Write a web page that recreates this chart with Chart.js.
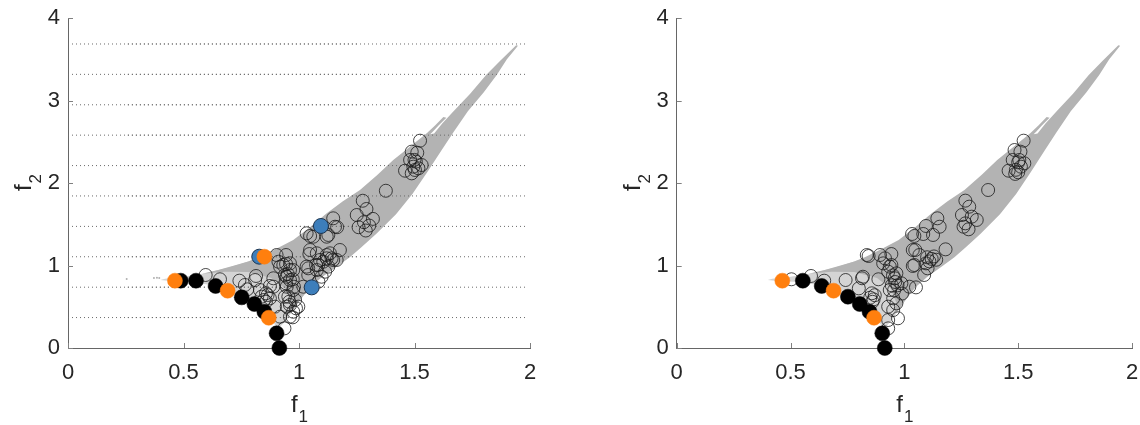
<!DOCTYPE html>
<html>
<head>
<meta charset="utf-8">
<script src="https://cdn.jsdelivr.net/npm/chart.js@4.4.1/dist/chart.umd.min.js"></script>
<style>
  body { margin: 0; background: #fff; width: 1140px; height: 425px; overflow: hidden; position: relative; }
  .panel { position: absolute; top: 0; width: 570px; height: 425px; }
</style>
</head>
<body>
<div class="panel" style="left:0"><canvas id="leftChart" width="570" height="425"></canvas></div>
<div class="panel" style="left:570px"><canvas id="rightChart" width="570" height="425"></canvas></div>
<script>
// tick labels
const f1Ticks = [0, 0.5, 1, 1.5, 2];
const f2Ticks = [0, 1, 2, 3, 4];

// dotted guide levels (left panel only)
const guideLevels = [0.369, 0.737, 1.106, 1.474, 1.843, 2.211, 2.58, 2.948, 3.317, 3.685];
const guideSpan = [0, 1.99];
const guideDense = [0.25, 1.25];

// feasible region, dense band outline [f1, f2]
const bandOutline = [
  [0.58, 0.90], [0.65, 0.945], [0.72, 1.0], [0.78, 1.05], [0.831, 1.107], [0.90, 1.20],
  [0.975, 1.309], [1.05, 1.47], [1.12, 1.633], [1.19, 1.78], [1.264, 1.915], [1.34, 2.10],
  [1.408, 2.279], [1.48, 2.44], [1.553, 2.602], [1.59, 2.70], [1.625, 2.80],
  [1.638, 2.79], [1.605, 2.70], [1.58, 2.625], [1.568, 2.59], [1.585, 2.60], [1.62, 2.72],
  [1.669, 2.87], [1.74, 3.08], [1.81, 3.31], [1.87, 3.48], [1.94, 3.67], [1.948, 3.665],
  [1.90, 3.50], [1.856, 3.31], [1.80, 3.10], [1.731, 2.87], [1.67, 2.62], [1.615, 2.387],
  [1.555, 2.13], [1.491, 1.866], [1.42, 1.62], [1.335, 1.384], [1.27, 1.22], [1.22, 1.10],
  [1.16, 0.98], [1.10, 0.86], [1.05, 0.74], [1.01, 0.60], [0.975, 0.46], [0.955, 0.42],
  [0.965, 0.55], [0.94, 0.72], [0.88, 0.85], [0.78, 0.92], [0.68, 0.925]
];
// sparse (speckled) part of the region
const sparseOutline = [
  [0.40, 0.825], [0.45, 0.81], [0.55, 0.80], [0.63, 0.755], [0.69, 0.695], [0.75, 0.615],
  [0.80, 0.535], [0.845, 0.45], [0.875, 0.36], [0.90, 0.27], [0.915, 0.25], [0.94, 0.32],
  [0.96, 0.40], [0.985, 0.50], [1.0, 0.60], [0.95, 0.85], [0.87, 1.13], [0.78, 1.05],
  [0.70, 0.98], [0.60, 0.91], [0.50, 0.865], [0.42, 0.84]
];
const strayDots = [[0.254, 0.835], [0.372, 0.85], [0.385, 0.853], [0.395, 0.85]];

// left panel markers
const leftOpen = [
  [0.596, 0.885], [0.658, 0.833], [0.742, 0.816], [0.814, 0.873], [0.776, 0.711], [0.766, 0.764],
  [0.831, 0.703], [0.857, 0.663], [0.874, 0.602], [0.857, 0.561], [0.838, 0.622], [0.864, 0.642],
  [0.848, 0.582], [0.874, 0.752], [0.889, 0.743], [0.896, 0.501], [0.918, 0.38], [0.937, 0.238],
  [0.81, 0.824], [0.889, 0.845],
  [0.903, 1.127], [0.944, 1.127], [0.911, 1.046], [0.944, 1.018], [0.918, 0.986], [0.961, 1.026],
  [0.975, 0.945], [0.951, 0.897], [0.939, 0.885], [0.973, 0.833], [0.961, 0.824], [0.944, 0.784],
  [0.978, 0.743], [0.947, 0.743], [0.975, 0.703], [0.939, 0.622], [0.954, 0.622], [0.958, 0.561],
  [0.983, 0.582], [0.987, 0.481], [0.947, 0.501], [0.961, 0.521], [0.997, 0.501], [0.975, 0.44],
  [0.973, 0.372], [0.961, 0.38], [0.947, 0.864], [0.961, 0.945], [0.932, 1.006],
  [1.045, 1.139], [1.074, 1.006], [1.033, 0.986], [1.04, 0.966], [1.077, 0.945], [1.091, 1.067],
  [1.12, 1.087], [1.148, 1.067], [1.134, 1.148], [1.177, 1.188], [1.083, 1.006], [1.048, 1.188],
  [1.077, 1.148], [1.12, 1.127], [1.141, 1.087], [1.163, 1.067], [1.105, 1.046], [1.127, 0.986],
  [1.113, 0.925], [1.098, 0.864], [1.084, 0.804], [1.04, 0.885], [1.019, 0.743],
  [1.033, 1.39], [1.048, 1.358], [1.062, 1.349], [1.127, 1.37], [1.12, 1.349], [1.156, 1.47],
  [1.148, 1.572], [1.165, 1.464], [1.25, 1.612], [1.276, 1.785], [1.292, 1.685], [1.32, 1.565],
  [1.281, 1.525], [1.304, 1.484], [1.258, 1.464], [1.289, 1.424], [1.376, 1.906],
  [1.524, 2.513], [1.488, 2.38], [1.512, 2.367], [1.481, 2.279], [1.506, 2.259], [1.531, 2.218],
  [1.459, 2.149], [1.488, 2.117], [1.502, 2.158], [1.517, 2.178], [1.495, 2.198], [1.50, 2.28]
];
const leftBlack = [
  [0.488, 0.816], [0.554, 0.816], [0.639, 0.752], [0.752, 0.614], [0.807, 0.533],
  [0.850, 0.44], [0.903, 0.178], [0.915, 0.0]
];
const leftOrange = [[0.463, 0.816], [0.691, 0.695], [0.869, 0.367], [0.850, 1.107]];
const leftBlue = [[0.828, 1.107], [1.055, 0.735], [1.095, 1.479]];

// right panel markers
const rightOpen = [
  [0.504, 0.833], [0.59, 0.873], [0.648, 0.816], [0.742, 0.824], [0.818, 0.864], [0.886, 0.833],
  [0.857, 0.663], [0.87, 0.64], [0.85, 0.61], [0.865, 0.59], [0.86, 0.56], [0.80, 0.723],
  [0.814, 0.845],
  [0.835, 1.127], [0.893, 1.127], [0.943, 1.139], [0.907, 1.026], [0.943, 1.006], [0.929, 0.925],
  [0.965, 0.905], [0.958, 0.845], [1.037, 1.188], [1.044, 1.006], [1.022, 0.743], [0.936, 0.703],
  [0.951, 0.602], [0.965, 0.541], [0.929, 0.501], [0.951, 0.46], [0.972, 0.36], [0.929, 0.339],
  [0.929, 0.238], [0.987, 0.784], [0.843, 1.115], [0.915, 1.087], [0.936, 0.986], [0.95, 0.88],
  [0.96, 0.80], [0.945, 0.76], [0.97, 0.76], [0.955, 0.70], [1.051, 0.735], [0.99, 0.66],
  [1.048, 1.188], [1.066, 1.127], [1.181, 1.196], [1.10, 1.10], [1.12, 1.08], [1.14, 1.07],
  [1.11, 1.05], [1.095, 1.026], [1.102, 0.966], [1.087, 0.885], [1.037, 0.994], [1.13, 1.11],
  [1.034, 1.382], [1.044, 1.358], [1.083, 1.382], [1.126, 1.37], [1.095, 1.479], [1.145, 1.572],
  [1.155, 1.47], [1.268, 1.786], [1.285, 1.713], [1.253, 1.612], [1.296, 1.592], [1.318, 1.552],
  [1.268, 1.511], [1.282, 1.439], [1.26, 1.47], [1.368, 1.915],
  [1.524, 2.513], [1.484, 2.40], [1.51, 2.38], [1.476, 2.279], [1.505, 2.279], [1.527, 2.239],
  [1.458, 2.149], [1.49, 2.16], [1.50, 2.13], [1.487, 2.11], [1.512, 2.198], [1.50, 2.25]
];
const rightBlack = [
  [0.554, 0.816], [0.637, 0.752], [0.752, 0.622], [0.804, 0.533], [0.847, 0.44],
  [0.903, 0.178], [0.914, 0.0]
];
const rightOrange = [[0.464, 0.816], [0.689, 0.695], [0.867, 0.367]];

const FONT = '"Liberation Sans", Arial, sans-serif';
const INK = '#262626';

const toXY = pts => pts.map(([x, y]) => ({ x, y }));

// horizontal dotted lines, broken with null points
const guideData = (from, to) => {
    const out = [];
    guideLevels.forEach(v => {
        out.push({ x: from, y: v }, { x: to, y: v }, { x: to, y: null });
    });
    return out;
};

const shape = (pts, color) => ({
    type: 'line',
    data: toXY(pts),
    fill: 'shape',
    backgroundColor: color,
    borderColor: 'rgba(0,0,0,0)',
    borderWidth: 1,
    pointRadius: 0,
    tension: 0
});

const markers = (pts, fill, border, radius, bw) => ({
    data: toXY(pts),
    pointRadius: radius,
    pointBackgroundColor: fill,
    pointBorderColor: border,
    pointBorderWidth: bw,
    clip: false
});

// inward ticks under the data, f1 / f2 titles with subscripts
const axisDecor = {
    id: 'axisDecor',
    beforeDatasetsDraw(chart) {
        const { ctx, chartArea: a, scales } = chart;
        ctx.save();
        ctx.strokeStyle = '#808080';
        ctx.lineWidth = 1;
        ctx.beginPath();
        scales.x.ticks.forEach(t => {
            const p = Math.round(scales.x.getPixelForValue(t.value)) + 0.5;
            ctx.moveTo(p, a.bottom);
            ctx.lineTo(p, a.bottom - 5);
        });
        scales.y.ticks.forEach(t => {
            const p = Math.round(scales.y.getPixelForValue(t.value)) + 0.5;
            ctx.moveTo(a.left, p);
            ctx.lineTo(a.left + 5, p);
        });
        ctx.stroke();
        ctx.restore();
    },
    afterDraw(chart) {
        const { ctx, chartArea: a } = chart;
        const drawSub = (main, sub) => {
            ctx.font = '24px ' + FONT;
            const wm = ctx.measureText(main).width;
            ctx.font = '17px ' + FONT;
            const ws = ctx.measureText(sub).width;
            const x0 = -(wm + ws) / 2;
            ctx.font = '24px ' + FONT;
            ctx.fillText(main, x0, 0);
            ctx.font = '17px ' + FONT;
            ctx.fillText(sub, x0 + wm + 1, 10);
        };
        ctx.save();
        ctx.fillStyle = INK;
        ctx.textBaseline = 'alphabetic';
        ctx.textAlign = 'left';
        ctx.save();
        ctx.translate((a.left + a.right) / 2, 412);
        drawSub('f', '1');
        ctx.restore();
        ctx.save();
        ctx.translate(a.left - 37, (a.top + a.bottom) / 2);
        ctx.rotate(-Math.PI / 2);
        drawSub('f', '2');
        ctx.restore();
        ctx.restore();
    }
};

const buildScales = (yWidth) => ({
    x: {
        type: 'linear', min: 0, max: 2,
        afterBuildTicks: s => { s.ticks = f1Ticks.map(v => ({ value: v })); },
        grid: { display: false, drawTicks: false },
        border: { display: true, color: '#666666', width: 1 },
        ticks: { color: INK, font: { family: FONT, size: 22 }, padding: 12, maxRotation: 0, autoSkip: false,
                 callback: v => String(v) },
        afterFit: s => { s.height = 77; s.paddingLeft = 0; s.paddingRight = 0; }
    },
    y: {
        type: 'linear', min: 0, max: 4,
        afterBuildTicks: s => { s.ticks = f2Ticks.map(v => ({ value: v })); },
        grid: { display: false, drawTicks: false },
        border: { display: true, color: '#666666', width: 1 },
        ticks: { color: INK, font: { family: FONT, size: 22 }, padding: 8, autoSkip: false,
                 callback: v => String(v) },
        afterFit: s => { s.width = yWidth; s.paddingTop = 0; s.paddingBottom = 0; }
    }
});

const createPanel = (elementId, datasets, yWidth, padRight) => {
    const ctx = document.getElementById(elementId).getContext('2d');
    return new Chart(ctx, {
        type: 'scatter',
        data: { datasets },
        options: {
            responsive: false,
            animation: false,
            events: [],
            layout: { padding: { left: 0, right: padRight, top: 18, bottom: 0 } },
            scales: buildScales(yWidth),
            plugins: { legend: { display: false }, tooltip: { enabled: false } }
        },
        plugins: [axisDecor]
    });
};

// first dataset is drawn on top
const leftSets = [
    markers(leftOrange, '#ff7f0e', '#ff7f0e', 7.5, 0.5),
    markers(leftBlue, '#3d7ebb', '#1d3550', 7.5, 1),
    markers(leftBlack, '#000', '#000', 7.5, 0.5),
    markers(leftOpen, 'rgba(0,0,0,0)', '#1a1a1a', 6.5, 0.8),
    { type: 'line', data: guideData(guideDense[0], guideDense[1]), borderColor: '#6a6a6a', borderWidth: 1,
      borderDash: [1, 3], borderDashOffset: 2, pointRadius: 0, spanGaps: false, fill: false },
    { type: 'line', data: guideData(guideSpan[0], guideSpan[1]), borderColor: '#6a6a6a', borderWidth: 1,
      borderDash: [1, 3], pointRadius: 0, spanGaps: false, fill: false },
    markers(strayDots, '#b0b0b0', '#b0b0b0', 1, 0),
    shape(bandOutline, '#b3b3b3'),
    shape(sparseOutline, '#d4d4d4')
];

const rightSets = [
    markers(rightOrange, '#ff7f0e', '#ff7f0e', 7.5, 0.5),
    markers(rightBlack, '#000', '#000', 7.5, 0.5),
    markers(rightOpen, 'rgba(0,0,0,0)', '#1a1a1a', 6.5, 0.8),
    shape(bandOutline, '#b3b3b3'),
    shape(sparseOutline, '#d4d4d4')
];

createPanel('leftChart', leftSets, 68, 40);
createPanel('rightChart', rightSets, 106.7, 0.5);
</script>
</body>
</html>
